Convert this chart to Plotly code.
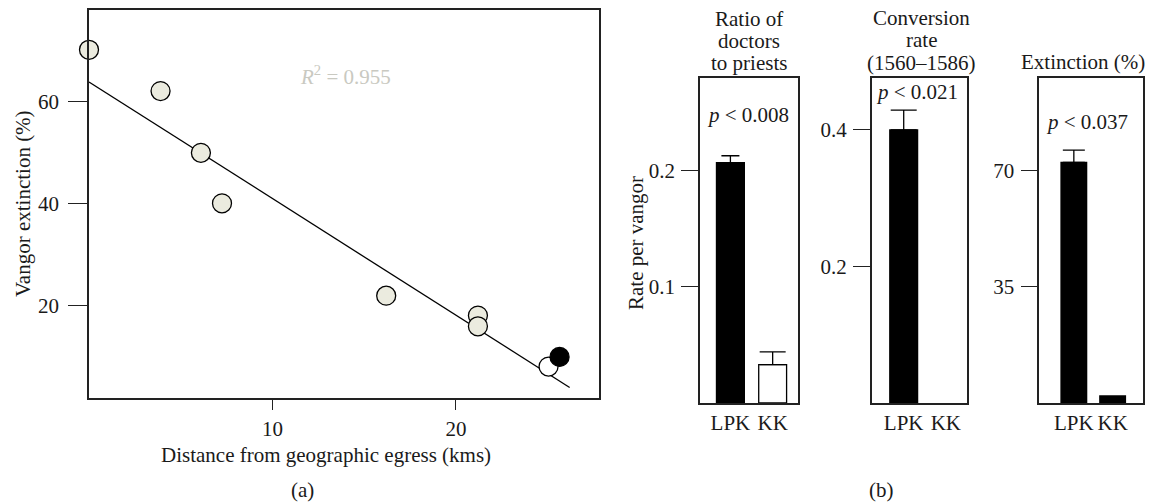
import plotly.graph_objects as go

# ---------------- data ----------------
# (a) scatter: distance (km) vs vangor extinction (%)
dist_grey = [0.0, 3.9, 6.1, 7.25, 16.2, 21.2, 21.2]
ext_grey = [70.1, 62.0, 49.9, 40.0, 21.9, 18.0, 15.9]
dist_open = [25.05]
ext_open = [8.0]
dist_black = [25.65]
ext_black = [9.9]
fit_x = [0.0, 26.2]
fit_y = [63.8, 3.9]
r2_text = "0.955"

# (b) bar panels
groups = ["LPK", "KK"]
ratio_vals = [0.207, 0.033]
ratio_err = [0.006, 0.011]
conv_vals = [0.40, 0.0]
conv_err = [0.029, 0.0]
ext_vals = [72.4, 2.1]
ext_err = [3.7, 0.0]
p_ratio = "0.008"
p_conv = "0.021"
p_ext = "0.037"

W, H = 1149, 502
FONT = "Liberation Serif"
FS = 21
INK = "#1a1a1a"


def px(x):
    return x / W


def py(y):
    return 1 - y / H


fig = go.Figure()

# ---- scatter (a)
fig.add_trace(go.Scatter(x=fit_x, y=fit_y, mode="lines",
                         line=dict(color="black", width=1.3),
                         xaxis="x", yaxis="y", hoverinfo="skip"))
mk_line = dict(color="black", width=1.3)
for xs, ys, col in [(dist_grey, ext_grey, "#ebebdf"),
                    (dist_open, ext_open, "white"),
                    (dist_black, ext_black, "black")]:
    fig.add_trace(go.Scatter(x=xs, y=ys, mode="markers", cliponaxis=False,
                             marker=dict(size=19, color=col, line=mk_line),
                             xaxis="x", yaxis="y"))


def add_bars(vals, errs, fills, xa, ya, capw):
    for i, (v, e, f, cw) in enumerate(zip(vals, errs, fills, capw)):
        if v <= 0:
            continue
        fig.add_trace(go.Bar(
            x=[i], y=[v], width=0.66,
            marker=dict(color=f, line=dict(color="black", width=1.3)),
            error_y=dict(type="data", symmetric=False, array=[e], arrayminus=[0],
                         color="black", thickness=1.3, width=cw,
                         visible=e > 0),
            xaxis=xa, yaxis=ya))


add_bars(ratio_vals, ratio_err, ["black", "white"], "x2", "y2", [9, 13])
add_bars(conv_vals, conv_err, ["black", "white"], "x3", "y3", [13, 13])
add_bars(ext_vals, ext_err, ["black", "black"], "x4", "y4", [11, 11])

axis_common = dict(showline=True, mirror=True, linecolor="#222", linewidth=1.5,
                   showgrid=False, zeroline=False,
                   tickfont=dict(family=FONT, size=FS, color=INK),
                   tickwidth=1.3)

layout = dict(
    width=W, height=H, margin=dict(l=0, r=0, t=0, b=0),
    paper_bgcolor="white", plot_bgcolor="white", showlegend=False,
    barmode="overlay",
    xaxis=dict(domain=[px(89), px(599)], range=[0, 27.8], anchor="y",
               tickvals=[10, 20], ticks="outside", ticklen=11,
               tickcolor="#222", **axis_common),
    yaxis=dict(domain=[py(397.7), py(10)], range=[1.9, 77.9], anchor="x",
               tickvals=[20, 40, 60], ticks="outside", ticklen=19,
               ticklabelstandoff=5, tickcolor="#222", **axis_common),
)

panels = [
    ("x2", "y2", 700, 798, [-0.72, 1.6], [0, 0.28], [0.1, 0.2], ["0.1", "0.2"]),
    ("x3", "y3", 871.7, 967.3, [-0.76, 1.51], [0, 0.476], [0.2, 0.4], ["0.2", "0.4"]),
    ("x4", "y4", 1039.3, 1143.3, [-0.89, 1.79], [0, 97.8], [35, 70], ["35", "70"]),
]
for xa, ya, x0, x1, xr, yr, tv, tt in panels:
    xkey = "xaxis" + xa[1:]
    ykey = "yaxis" + ya[1:]
    layout[xkey] = dict(domain=[px(x0), px(x1)], range=xr, anchor=ya,
                        tickvals=[0, 1], ticktext=groups, ticks="",
                        **axis_common)
    layout[ykey] = dict(domain=[py(403), py(78)], range=yr, anchor=xa,
                        tickvals=tv, ticktext=tt, ticks="outside", ticklen=17,
                        ticklabelstandoff=2, tickcolor="#222", **axis_common)

fig.update_layout(**layout)


def note(text, x, y, size=FS, color=INK, **kw):
    fig.add_annotation(text=text, x=px(x), y=py(y), xref="paper", yref="paper",
                       showarrow=False, xanchor="center", yanchor="middle",
                       font=dict(family=FONT, size=size, color=color), **kw)


# axis titles / labels (a)
note("Vangor extinction (%)", 23, 204, textangle=-90)
note("Distance from geographic egress (kms)", 326, 455)
note("(a)", 302, 490)
fig.add_annotation(text="<i>R</i><sup>2</sup> = " + r2_text, x=14.0, y=65.0,
                   xref="x", yref="y", showarrow=False,
                   font=dict(family=FONT, size=FS, color="#c9c9c1"))

# (b)
note("Rate per vangor", 636, 243, textangle=-90)
note("Ratio of", 749, 19)
note("doctors", 749, 41)
note("to priests", 749, 63)
note("Conversion", 921, 18)
note("rate", 921, 40)
note("(1560–1586)", 921, 63)
note("Extinction (%)", 1083, 62)
note("<i>p</i> < " + p_ratio, 748, 115)
note("<i>p</i> < " + p_conv, 917, 92)
note("<i>p</i> < " + p_ext, 1087, 122)
note("(b)", 882, 490)

fig.write_html("out.html", config={"displayModeBar": False},
               post_script="document.body.style.margin='0';document.body.style.overflow='hidden';")
